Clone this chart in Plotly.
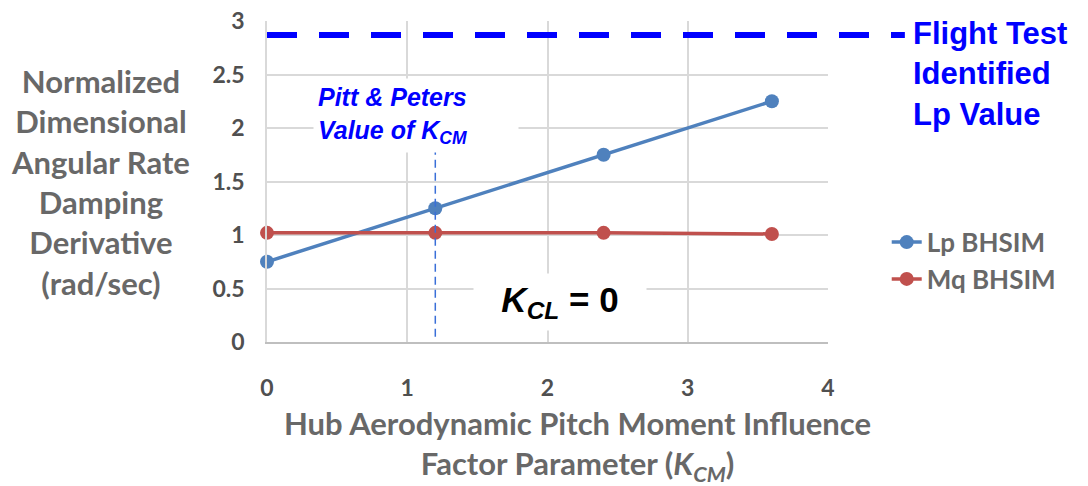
import plotly.graph_objects as go

# Hub pitch moment influence factor (K_CM) sweep
kcm = [0, 1.2, 2.4, 3.6]
lp_bhsim = [0.75, 1.25, 1.75, 2.25]
mq_bhsim = [1.02, 1.02, 1.02, 1.01]

flight_test_lp = 2.87      # identified roll damping from flight test
pitt_peters_kcm = 1.2      # Pitt & Peters value of K_CM
pitt_peters_line_top = 1.78

x_ticks = [0, 1, 2, 3, 4]
y_ticks = [0, 0.5, 1, 1.5, 2, 2.5, 3]
y_tick_text = ["0", "0.5", "1", "1.5", "2", "2.5", "3"]

GRAY = "#686868"
TICK_GRAY = "#505050"
BLUE = "#0000ff"
SANS = "Lato"
ARIAL = "Liberation Sans"

fig = go.Figure()

fig.add_trace(go.Scatter(
    x=kcm, y=lp_bhsim, name="Lp BHSIM", mode="lines+markers",
    line=dict(color="#4f81bd", width=3.5),
    marker=dict(color="#4f81bd", size=14),
    cliponaxis=False,
))
fig.add_trace(go.Scatter(
    x=kcm, y=mq_bhsim, name="Mq BHSIM", mode="lines+markers",
    line=dict(color="#c0504d", width=3.5),
    marker=dict(color="#c0504d", size=14),
    cliponaxis=False,
))

# Flight-test reference level, running out to the label on the right
fig.add_shape(
    type="line", xref="paper", yref="y",
    x0=0, x1=1.137, y0=flight_test_lp, y1=flight_test_lp,
    line=dict(color=BLUE, width=6, dash="30px,22px"),
    layer="above",
)

# Pitt & Peters K_CM marker line
fig.add_shape(
    type="line", xref="x", yref="y",
    x0=pitt_peters_kcm, x1=pitt_peters_kcm, y0=0.05, y1=pitt_peters_line_top,
    line=dict(color="#3a6fd8", width=1.5, dash="8px,5px"),
    layer="above",
)

annotations = [
    dict(
        text="Normalized<br>Dimensional<br>Angular Rate<br>Damping<br>Derivative<br>(rad/sec)",
        xref="paper", yref="paper", x=-0.297, y=0.498, xanchor="center", yanchor="middle",
        showarrow=False, align="center",
        font=dict(family=SANS, size=31, color=GRAY, weight="bold"),
    ),
    dict(
        text="Hub Aerodynamic Pitch Moment Influence<br>Factor Parameter (<i>K<sub>CM</sub></i>)",
        xref="paper", yref="paper", x=0.553, y=-0.321, xanchor="center", yanchor="middle",
        showarrow=False, align="center",
        font=dict(family=SANS, size=31, color=GRAY, weight="bold"),
    ),
    dict(
        text="<b>Flight Test<br>Identified<br>Lp Value</b>",
        xref="paper", yref="y", x=1.148, y=flight_test_lp, xanchor="left", yanchor="top",
        yshift=21, showarrow=False, align="left",
        font=dict(family=ARIAL, size=31, color=BLUE),
    ),
    dict(
        text="<b><i>Pitt & Peters<br>Value of K<sub>CM</sub></i></b>",
        xref="x", yref="y", x=1.06, y=2.12, xanchor="center", yanchor="middle",
        showarrow=False, align="left", width=196, bgcolor="white", borderpad=4,
        font=dict(family=ARIAL, size=25, color=BLUE),
    ),
    dict(
        text="<b><i>K<sub>CL</sub></i> = 0</b>",
        xref="x", yref="y", x=2.09, y=0.37, xanchor="center", yanchor="middle",
        showarrow=False, align="center", width=160, bgcolor="white", borderpad=6,
        font=dict(family=ARIAL, size=35, color="black"),
    ),
]

fig.update_layout(
    width=1088, height=486,
    margin=dict(l=267, r=260, t=21, b=144),
    paper_bgcolor="white", plot_bgcolor="white",
    showlegend=True,
    legend=dict(
        xref="container", yref="container", x=0.815, y=0.55,
        xanchor="left", yanchor="top",
        font=dict(family=SANS, size=26, color=GRAY, weight="bold"),
        bgcolor="rgba(0,0,0,0)",
    ),
    annotations=annotations,
    xaxis=dict(
        range=[0, 4], tickvals=x_ticks, ticktext=[str(t) for t in x_ticks],
        showgrid=True, gridcolor="#d9d9d9", gridwidth=1.5,
        showline=True, linecolor="#bfbfbf", linewidth=2,
        zeroline=False, automargin=False,
        ticks="outside", ticklen=24, tickcolor="rgba(0,0,0,0)",
        tickfont=dict(family=SANS, size=23, color=TICK_GRAY, weight="bold"),
    ),
    yaxis=dict(
        range=[0, 3], tickvals=y_ticks, ticktext=y_tick_text,
        showgrid=True, gridcolor="#d9d9d9", gridwidth=1.5,
        showline=True, linecolor="#d9d9d9", linewidth=1.5,
        zeroline=False, automargin=False,
        ticks="outside", ticklen=16, tickcolor="rgba(0,0,0,0)",
        tickfont=dict(family=SANS, size=23, color=TICK_GRAY, weight="bold"),
    ),
)

fig.write_html("out.html")
